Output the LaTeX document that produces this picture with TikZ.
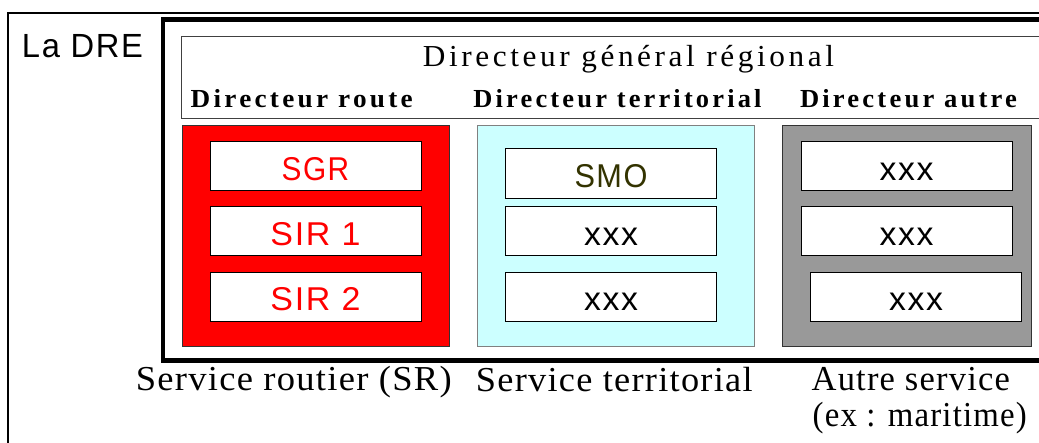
\documentclass[tikz,border=0pt]{standalone}
\usepackage{fontspec}
\usepackage{graphicx}
\newfontfamily\headserif{Liberation Serif}[LetterSpace=11.5]
\newfontfamily\boldserif{Liberation Serif}[LetterSpace=12]
\newfontfamily\labelserif{Liberation Serif}[LetterSpace=3.5]
\newfontfamily\unitsans{Liberation Sans}[LetterSpace=5]
% stretch a text horizontally to a given width, keeping its height
\newcommand\fitw[2]{\resizebox{#1}{\height}{#2}}
\definecolor{panelred}{HTML}{FF0000}
\definecolor{panelcyan}{HTML}{CCFFFF}
\definecolor{panelgray}{HTML}{999999}
\definecolor{smotext}{HTML}{333300}
\begin{document}
\begin{tikzpicture}[x=1pt,y=-1pt,
  txt/.style={anchor=base,inner sep=0pt,outer sep=0pt},
  panel/.style={draw=#1,line width=1pt,inner sep=0pt,anchor=north west},
  unit/.style={draw=black,line width=1pt,fill=white,inner sep=0pt,
    minimum width=211pt,minimum height=49pt,text height=28pt,text depth=0pt,
    font=\unitsans\fontsize{33}{36}\selectfont},
  head/.style={txt,font=\headserif\fontsize{30.5}{36}\selectfont},
  chief/.style={txt,font=\boldserif\bfseries\fontsize{26}{30}\selectfont},
  service/.style={txt,font=\labelserif\fontsize{35}{40}\selectfont}]
\useasboundingbox (0,0) rectangle (1039,443);
\clip (0,0) rectangle (1039,443);

% outer frame of the DRE (runs past the right and bottom edges)
\draw[line width=2pt] (8.3,460) -- (8.3,13.5) -- (1060,13.5);
\node[txt,font=\unitsans\fontsize{33.5}{36}\selectfont] (dre) at (82.5,57.3) {\fitw{121pt}{La DRE}};

% thick frame of the services
\draw[line width=4.5pt] (1060,19.3) -- (163,19.3) -- (163,360.5) -- (1060,360.5);

% header band
\draw[draw=black!75,line width=1.2pt,fill=white] (181.5,36.5) rectangle (1060,118.3);
\node[head] (dgr) at (628.5,66.7) {\fitw{411pt}{Directeur général régional}};
\node[chief] (dr) at (301.7,107.3) {\fitw{222pt}{Directeur route}};
\node[chief] (dt) at (617.5,107.3) {\fitw{288pt}{Directeur territorial}};
\node[chief] (da) at (908.5,107.3) {\fitw{217pt}{Directeur autre}};

% service panels
\node[panel=black!80,fill=panelred,minimum width=267.5pt,minimum height=221pt] (sr) at (181.5,125.3) {};
\node[panel=black!50,fill=panelcyan,minimum width=277.3pt,minimum height=221pt] (st) at (476.7,125.3) {};
\node[panel=black!80,fill=panelgray,minimum width=249pt,minimum height=221pt] (sa) at (782,125.3) {};

% units of the road service
\node[unit,text=panelred] (sgr) at (315.5,166.5) {\fitw{67.6pt}{SGR}};
\node[unit,text=panelred] (sir1) at (315.5,231.5) {\fitw{90pt}{SIR 1}};
\node[unit,text=panelred] (sir2) at (315.5,297) {\fitw{90pt}{SIR 2}};

% units of the territorial service
\node[unit,text=smotext,minimum height=50pt] (smo) at (611,174) {\fitw{73pt}{SMO}};
\node[unit] (st2) at (611,231.5) {\fitw{54pt}{xxx}};
\node[unit] (st3) at (611,297) {\fitw{54pt}{xxx}};

% units of the other service
\node[unit] (sa1) at (906.5,166.5) {\fitw{54pt}{xxx}};
\node[unit] (sa2) at (906.5,231.5) {\fitw{54pt}{xxx}};
\node[unit] (sa3) at (916,297) {\fitw{54pt}{xxx}};

% service names
\node[service] (lsr) at (293.8,391) {\fitw{316pt}{Service routier (SR)}};
\node[service] (lst) at (614.3,391.5) {\fitw{276.7pt}{Service territorial}};
\node[service] (lsa) at (910.8,391) {\fitw{198.3pt}{Autre service}};
\node[service] (lsx) at (919.7,426.7) {\fitw{214pt}{(ex : maritime)}};
\end{tikzpicture}
\end{document}
